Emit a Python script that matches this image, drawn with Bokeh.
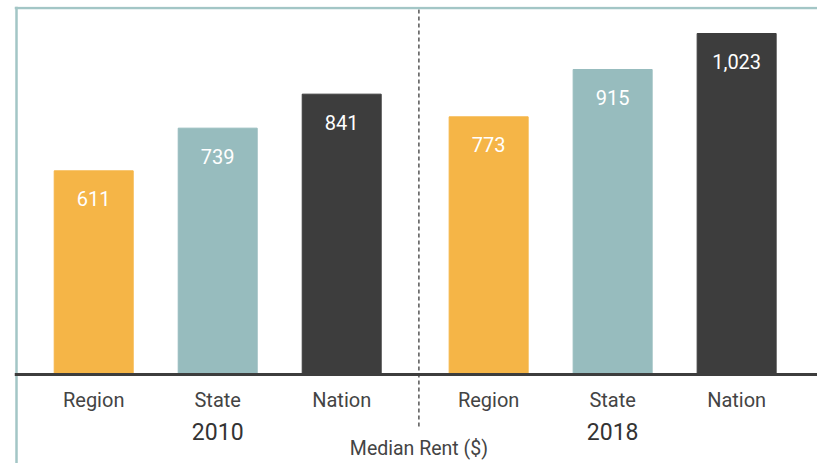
from bokeh.plotting import figure
from bokeh.models import Range1d, Span, ColumnDataSource
from bokeh.core.properties import value
from bokeh.embed import file_html
from bokeh.resources import INLINE

# ---- data ----
years = ["2010", "2018"]
categories = ["Region", "State", "Nation"]
rent_2010 = [611, 739, 841]
rent_2018 = [773, 915, 1023]
axis_title = "Median Rent ($)"

colors = {"Region": "#F5B547", "State": "#97BCBE", "Nation": "#3D3D3D"}
group_gap = 0.185
bar_w = 0.637

# positions derived from indices
xs, tops, cols, cats, labels = [], [], [], [], []
for gi, vals in enumerate([rent_2010, rent_2018]):
    for ci, (c, v) in enumerate(zip(categories, vals)):
        xs.append(gi * (len(categories) + group_gap) + ci)
        tops.append(v)
        cols.append(colors[c])
        cats.append(c)
        labels.append(f"{v:,}")

src = ColumnDataSource(dict(x=xs, top=tops, color=cols, cat=cats, label=labels,
                            label_y=[t - 84 for t in tops]))

X0, X1 = -0.6387, 5.837
Y0, Y1 = -267, 1104
p = figure(width=817, height=463, output_backend="svg", toolbar_location=None,
           x_range=Range1d(X0, X1), y_range=Range1d(Y0, Y1),
           min_border_left=14, min_border_right=0, min_border_top=6, min_border_bottom=0)
p.axis.visible = False
p.grid.visible = False
p.outline_line_color = None
p.background_fill_color = "white"

# frame borders (left and top)
left_border = X0 + 2 / 124
top_border = Y1 - 4.5
p.add_layout(Span(location=left_border, dimension="height", line_color="#A3C6C6", line_width=2.5))
p.add_layout(Span(location=top_border, dimension="width", line_color="#A3C6C6", line_width=2.5))

p.vbar(x="x", top="top", bottom=0, width=bar_w, color="color", source=src)

# baseline
p.add_layout(Span(location=0, dimension="width", line_color="#3D3D3D", line_width=3))

# group separator
sep_x = (len(categories) - 1 + len(categories) + group_gap) / 2 + 0.03
p.segment(x0=[sep_x], y0=[-156], x1=[sep_x], y1=[top_border], line_color="#555555",
          line_width=1.5, line_dash="4 3")

# value labels
p.text(x="x", y="label_y", text="label", source=src, text_color="white",
       text_font=value("Roboto"), text_font_size="20px", text_align="center",
       text_baseline="middle")

# category labels
p.text(x="x", y=-75, text="cat", source=src, text_color="#444444",
       text_font=value("Roboto"), text_font_size="20px", text_align="center",
       text_baseline="middle")

# year labels under middle bar of each group
year_x = [gi * (len(categories) + group_gap) + 1 for gi in range(len(years))]
p.text(x=year_x, y=[-170] * len(years), text=years, text_color="#333333",
       text_font=value("Roboto"), text_font_size="23px", text_align="center",
       text_baseline="middle")

p.text(x=[sep_x], y=[-222], text=[axis_title], text_color="#444444",
       text_font=value("Roboto"), text_font_size="19.5px", text_align="center",
       text_baseline="middle")

open("out.html", "w").write(file_html(p, INLINE))
